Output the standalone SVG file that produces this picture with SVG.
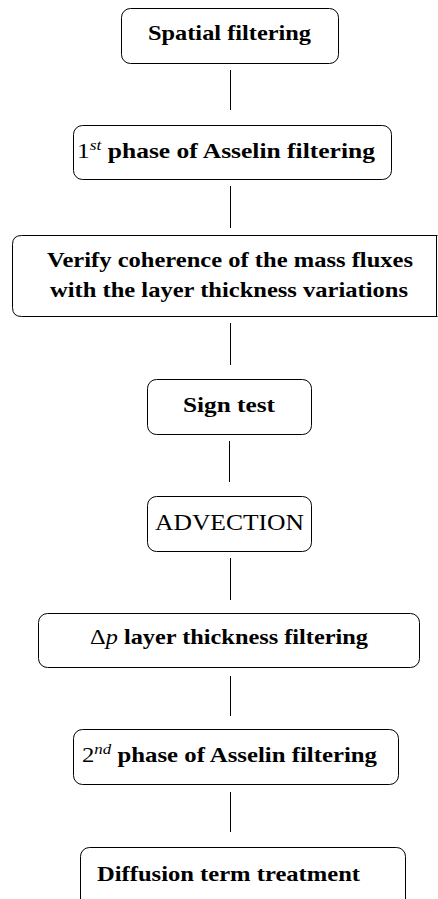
<svg xmlns="http://www.w3.org/2000/svg" width="438" height="899" viewBox="0 0 438 899">
<style>
.box{fill:#fff;stroke:#000;stroke-width:1}
.t{font-family:"Liberation Serif","DejaVu Serif",serif;font-weight:bold;font-size:22px;fill:#000}
.m{font-weight:normal}
.i{font-weight:normal;font-style:italic}
.n{font-weight:normal;font-size:23px}
.c line{stroke:#000;stroke-width:1}
</style>
<rect width="438" height="899" fill="#fff"/>
<g class="c" id="connectors">
<line x1="230.5" y1="70" x2="230.5" y2="110"/>
<line x1="230.5" y1="186" x2="230.5" y2="228"/>
<line x1="230.5" y1="323" x2="230.5" y2="365"/>
<line x1="229.5" y1="441" x2="229.5" y2="482"/>
<line x1="230.5" y1="558" x2="230.5" y2="600"/>
<line x1="230.5" y1="676" x2="230.5" y2="716"/>
<line x1="230.5" y1="792" x2="230.5" y2="832"/>
</g>
<g id="n1">
<rect class="box" x="121.5" y="8.5" width="217" height="55" rx="9"/>
<text class="t" x="148" y="40" textLength="163" lengthAdjust="spacingAndGlyphs">Spatial filtering</text>
</g>
<g id="n2">
<rect class="box" x="73.5" y="125.5" width="318" height="54" rx="9"/>
<text class="t" x="77" y="158" textLength="298" lengthAdjust="spacingAndGlyphs"><tspan class="m">1</tspan><tspan class="i" font-size="15" dy="-8">st</tspan><tspan dy="8"> phase of Asselin filtering</tspan></text>
</g>
<g id="n3">
<path class="box" d="M437.5,235.5 H21.5 Q12.5,235.5 12.5,244.5 V307.5 Q12.5,316.5 21.5,316.5 H437.5"/>
<line x1="436.5" y1="235.5" x2="436.5" y2="316.5" stroke="#000" stroke-width="1"/>
<text class="t" x="47" y="267" textLength="366" lengthAdjust="spacingAndGlyphs">Verify coherence of the mass fluxes</text>
<text class="t" x="50" y="297" textLength="358" lengthAdjust="spacingAndGlyphs">with the layer thickness variations</text>
</g>
<g id="n4">
<rect class="box" x="147.5" y="379.5" width="164" height="55" rx="9"/>
<text class="t" x="183" y="412" textLength="92" lengthAdjust="spacingAndGlyphs">Sign test</text>
</g>
<g id="n5">
<rect class="box" x="147.5" y="496.5" width="164" height="55" rx="9"/>
<text class="t n" x="155" y="530" textLength="149" lengthAdjust="spacingAndGlyphs">ADVECTION</text>
</g>
<g id="n6">
<rect class="box" x="38.5" y="613.5" width="381" height="54" rx="9"/>
<text class="t" x="90" y="644" textLength="278" lengthAdjust="spacingAndGlyphs"><tspan class="m">Δ</tspan><tspan class="i">p</tspan> layer thickness filtering</text>
</g>
<g id="n7">
<rect class="box" x="73.5" y="729.5" width="325" height="55" rx="9"/>
<text class="t" x="82" y="762" textLength="295" lengthAdjust="spacingAndGlyphs"><tspan class="m">2</tspan><tspan class="i" font-size="15" dy="-8">nd</tspan><tspan dy="8"> phase of Asselin filtering</tspan></text>
</g>
<g id="n8">
<rect class="box" x="80.5" y="847.5" width="325" height="70" rx="9"/>
<text class="t" x="97" y="881" textLength="263" lengthAdjust="spacingAndGlyphs">Diffusion term treatment</text>
</g>
</svg>
